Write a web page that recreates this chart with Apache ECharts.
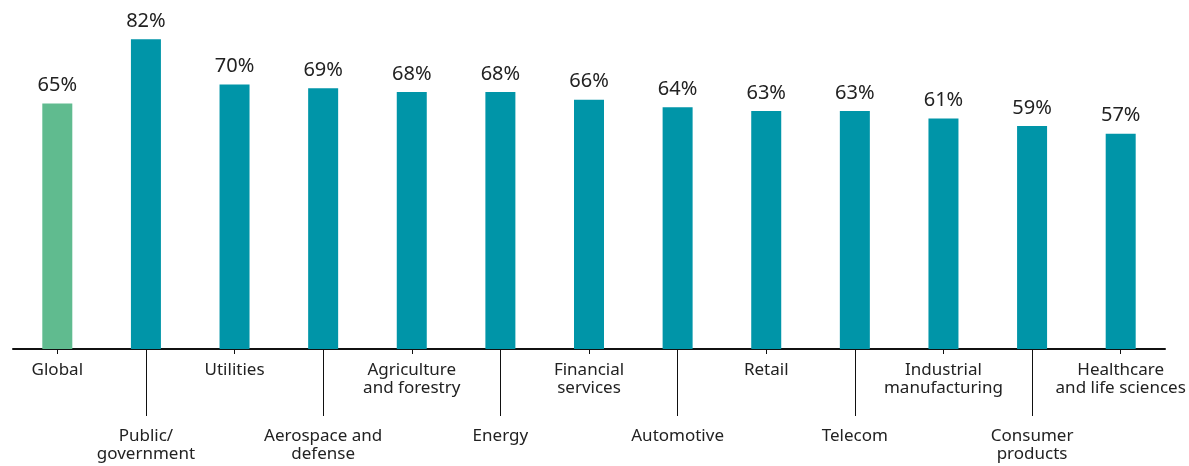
<!DOCTYPE html>
<html><head><meta charset="utf-8">
<script src="https://cdn.jsdelivr.net/npm/echarts@6/dist/echarts.min.js"></script>
<style>html,body{margin:0;padding:0;background:#fff}#c{width:1189px;height:466px}</style>
</head><body><div id="c"></div>
<script>
const categories = ["Global","Public/\ngovernment","Utilities","Aerospace and\ndefense","Agriculture\nand forestry","Energy","Financial\nservices","Automotive","Retail","Telecom","Industrial\nmanufacturing","Consumer\nproducts","Healthcare\nand life sciences"];
const values = [65,82,70,69,68,68,66,64,63,63,61,59,57];
const highlightIndex = 0;
const colorHighlight = '#60bb8f';
const colorMain = '#0095a8';
const font = '"Noto Sans", "Open Sans", sans-serif';

const chart = echarts.init(document.getElementById('c'));
const isEven = i => i % 2 === 0;
const isOdd = i => i % 2 === 1;
chart.setOption({
  animation:false,
  grid:{left:13,right:24,top:9,bottom:117,containLabel:false,outerBoundsMode:'none'},
  xAxis:[
    {type:'category',data:categories,position:'bottom',
     axisLine:{show:true,lineStyle:{color:'#111',width:2}},
     axisTick:{show:true,alignWithLabel:true,interval:isEven,length:5,lineStyle:{color:'#111',width:1}},
     axisLabel:{interval:isEven,margin:12,color:'#222',fontSize:17,lineHeight:18,fontFamily:font,verticalAlign:'top'}},
    {type:'category',data:categories,position:'bottom',
     axisLine:{show:false},
     axisTick:{show:true,alignWithLabel:true,interval:isOdd,length:67,lineStyle:{color:'#111',width:1}},
     axisLabel:{interval:isOdd,margin:78,color:'#222',fontSize:17,lineHeight:18,fontFamily:font,verticalAlign:'top'}}
  ],
  yAxis:{type:'value',min:0,max:90,show:false,splitLine:{show:false}},
  series:[{type:'bar',xAxisIndex:0,barWidth:30,
    data:values.map((v,i)=>({value:v,itemStyle:{color:i===highlightIndex?colorHighlight:colorMain}})),
    label:{show:true,position:'top',distance:8,formatter:'{c}%',color:'#222',fontSize:20,fontFamily:font}
  }]
});
</script></body></html>
